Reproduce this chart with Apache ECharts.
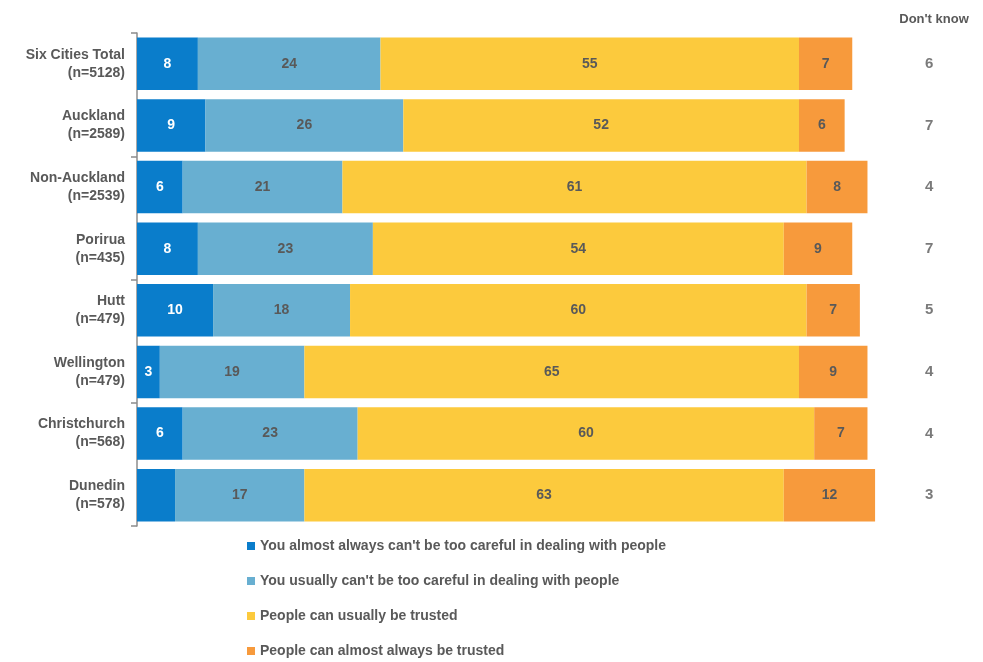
<!DOCTYPE html>
<html><head><meta charset="utf-8">
<script src="https://cdn.jsdelivr.net/npm/echarts@6/dist/echarts.min.js"></script>
<style>html,body{margin:0;padding:0;background:#fff}#c{width:983px;height:662px}</style>
</head><body><div id="c"></div>
<script>
const categories = ['Six Cities Total\n(n=5128)','Auckland\n(n=2589)','Non-Auckland\n(n=2539)','Porirua\n(n=435)','Hutt\n(n=479)','Wellington\n(n=479)','Christchurch\n(n=568)','Dunedin\n(n=578)'];
const seriesNames = ["You almost always can't be too careful in dealing with people","You usually can't be too careful in dealing with people","People can usually be trusted","People can almost always be trusted"];
const almostAlwaysCareful = [8,9,6,8,10,3,6,5];
const usuallyCareful = [24,26,21,23,18,19,23,17];
const usuallyTrusted = [55,52,61,54,60,65,60,63];
const almostAlwaysTrusted = [7,6,8,9,7,9,7,12];
const dontKnow = [6,7,4,7,5,4,4,3];
const hiddenLabels = [[0,7]]; // Dunedin first segment label not shown

const colors = ['#0A7DCB','#68AFD1','#FCCA3D','#F79A3C'];
const font = 'Liberation Sans, Arial, sans-serif';
const grey = '#595959';
const seriesData = [almostAlwaysCareful, usuallyCareful, usuallyTrusted, almostAlwaysTrusted];

const chart = echarts.init(document.getElementById('c'));
const series = seriesData.map((arr, si) => ({
  name: seriesNames[si], type: 'bar', stack: 'a', barCategoryGap: '15%',
  itemStyle: {color: colors[si]},
  label: {show: true, position: 'inside', fontFamily: font, fontWeight: 'bold', fontSize: 14,
    color: si === 0 ? '#fff' : grey},
  data: arr.map((v, i) => hiddenLabels.some(h => h[0] === si && h[1] === i) ? {value: v, label: {show: false}} : v)
}));
series.push({
  name: "Don't know", type: 'scatter', symbolSize: 0, silent: true,
  label: {show: true, position: 'inside', fontFamily: font, fontWeight: 'bold', fontSize: 15, color: grey,
    formatter: p => p.value[2]},
  data: dontKnow.map((v, i) => [104.1, categories[i], v])
});
chart.setOption({
  animation: false,
  title: {text: "Don't know", left: 929, top: 8, textAlign: 'center',
    textStyle: {fontFamily: font, fontWeight: 'bold', fontSize: 13, color: grey}},
  grid: {left: 137, right: 9, top: 33, bottom: 136},
  xAxis: {type: 'value', min: 0, max: 110, show: false},
  yAxis: [{type: 'category', data: categories, inverse: true,
    axisLine: {show: true, lineStyle: {color: '#8c8c8c', width: 1.5}},
    axisTick: {show: true, interval: 1, length: 6, lineStyle: {color: '#8c8c8c', width: 1.5}},
    axisLabel: {fontFamily: font, fontWeight: 'bold', fontSize: 14, color: grey, align: 'right', lineHeight: 18, margin: 12}
  }],
  legend: {orient: 'vertical', left: 242, top: 534, height: 128, itemWidth: 8, itemHeight: 8, itemGap: 21,
    icon: 'rect', data: seriesNames,
    textStyle: {fontFamily: font, fontWeight: 'bold', fontSize: 14, color: grey}},
  series: series
});
</script></body></html>
